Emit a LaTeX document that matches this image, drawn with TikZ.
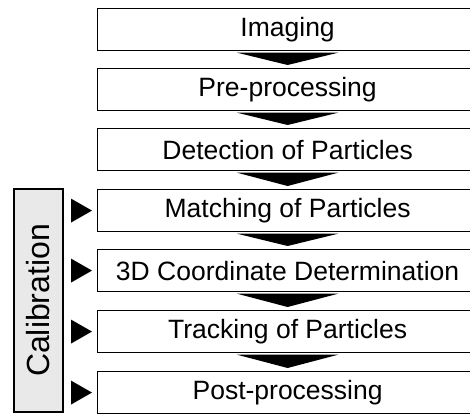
\documentclass[tikz,border=0pt]{standalone}
\usepackage{fontspec}
\setmainfont{Liberation Sans}
\usetikzlibrary{calc}
\begin{document}
\begin{tikzpicture}[x=1pt,y=-1pt,
  stepbox/.style={draw=black, line width=1.2pt, fill=white, anchor=north west,
    minimum width=380pt, minimum height=42pt, inner sep=0pt,
    font=\fontsize{26.5}{30}\selectfont},
  calbox/.style={draw=black, line width=1.4pt, fill=gray!17, rotate=90,
    minimum width=223pt, minimum height=49pt, inner sep=0pt,
    font=\fontsize{32}{36}\selectfont},
  flowtip/.style={fill=black},
]
\useasboundingbox (0,0) rectangle (470,414);

% process steps
\node[stepbox] (b1) at (97,8)   {Imaging};
\node[stepbox] (b2) at (97,68)  {Pre-processing};
\node[stepbox] (b3) at (97,128) {Detection of Particles};
\node[stepbox] (b4) at (97,189) {Matching of Particles};
\node[stepbox] (b5) at (97,249) {3D Coordinate Determination};
\node[stepbox] (b6) at (97,310) {Tracking of Particles};
\node[stepbox] (b7) at (97,371) {Post-processing};

% wide flat arrows between consecutive steps
\foreach \a/\b in {b1/b2,b2/b3,b3/b4,b4/b5,b5/b6,b6/b7}{
  \fill[flowtip] ($(\a.south)+(-50.5,1.5)$) -- ($(\a.south)+(50.5,1.5)$)
    -- ($(\b.north)+(0,-3)$) -- cycle;
}

% calibration block
\node[calbox] (cal) at (38.5,300.5) {Calibration};

% calibration feeds into the later steps
\foreach \s in {b4,b5,b6,b7}{
  \fill[flowtip] ($(\s.west)+(-26,-12)$) -- ($(\s.west)+(-5,0)$)
    -- ($(\s.west)+(-26,12)$) -- cycle;
}
\end{tikzpicture}
\end{document}
